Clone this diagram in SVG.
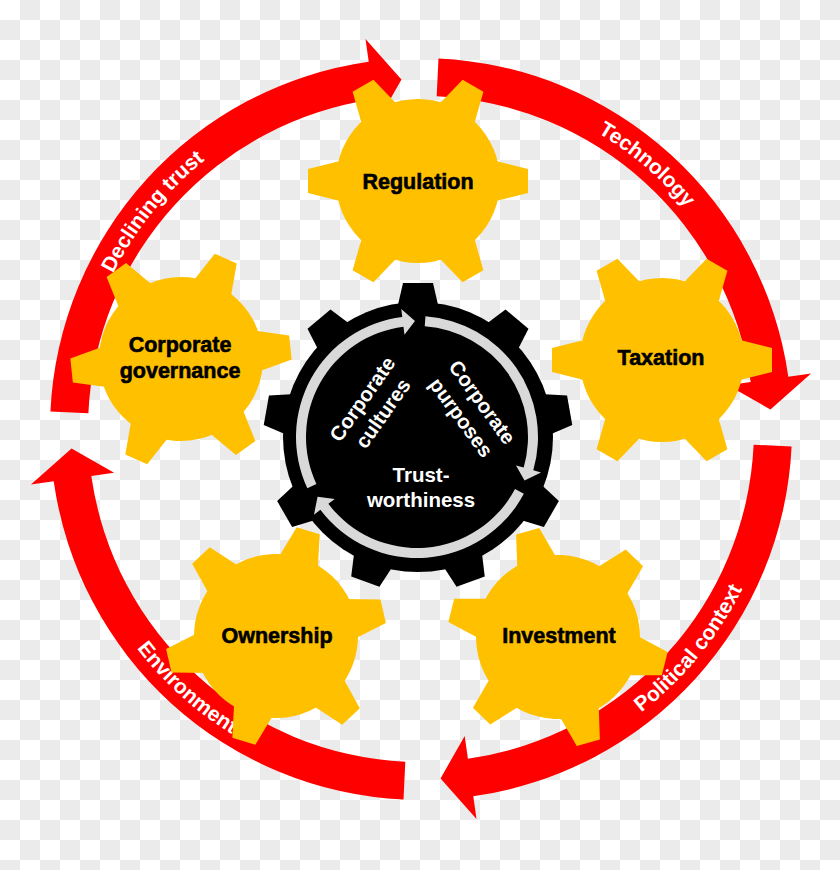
<svg xmlns="http://www.w3.org/2000/svg" width="840" height="870" viewBox="0 0 840 870">
<defs>
<style>
.lab{font-family:"Liberation Sans",Arial,sans-serif;font-weight:bold;font-size:21px;fill:#fff}
.nt{font-family:"Liberation Sans",Arial,sans-serif;font-weight:bold;font-size:21.5px;fill:#000;stroke:#000;stroke-width:0.6px;text-anchor:middle}
.ct{font-family:"Liberation Sans",Arial,sans-serif;font-weight:bold;font-size:20.5px;fill:#fff;text-anchor:middle}
.ring{fill:#d9d9d9}
.chk line{stroke:#ebebeb;stroke-width:20px;stroke-dasharray:20 20}
.chk .e{stroke-dashoffset:20px}
</style>
<path id="redArrow" fill="#ff0000" d="M50.41 411.52 A371 371 0 0 1 368.73 61.70 L365.49 38.93 L401.46 79.55 L377.32 122.09 L374.08 99.32 A333 333 0 0 0 88.37 413.31 Z"/>
<polygon id="yt" points="74,-21 110,-12 110,12 74,21"/>
<g id="yg" fill="#ffc000">
<circle r="82"/>
<use href="#yt"/>
<use href="#yt" transform="rotate(60)"/>
<use href="#yt" transform="rotate(120)"/>
<use href="#yt" transform="rotate(180)"/>
<use href="#yt" transform="rotate(240)"/>
<use href="#yt" transform="rotate(300)"/>
</g>
<polygon id="bt" points="128,-21 154,-15 154,15 128,21"/>
<path id="lp1" d="M76.05 435.02 A345 345 0 0 1 355.17 90.34"/>
<path id="lp2" d="M424.01 84.01 A345 345 0 0 1 761.27 372.06"/>
<path id="lp3" d="M487.65 781.76 A359 359 0 0 0 779.97 424.61"/>
<path id="lp4" d="M65.41 478.34 A359 359 0 0 0 407.85 787.76"/>
</defs>
<rect width="840" height="870" fill="#ffffff"/>
<g class="chk">
<line class="e" x1="0" y1="10" x2="840" y2="10"/>
<line x1="0" y1="30" x2="840" y2="30"/>
<line class="e" x1="0" y1="50" x2="840" y2="50"/>
<line x1="0" y1="70" x2="840" y2="70"/>
<line class="e" x1="0" y1="90" x2="840" y2="90"/>
<line x1="0" y1="110" x2="840" y2="110"/>
<line class="e" x1="0" y1="130" x2="840" y2="130"/>
<line x1="0" y1="150" x2="840" y2="150"/>
<line class="e" x1="0" y1="170" x2="840" y2="170"/>
<line x1="0" y1="190" x2="840" y2="190"/>
<line class="e" x1="0" y1="210" x2="840" y2="210"/>
<line x1="0" y1="230" x2="840" y2="230"/>
<line class="e" x1="0" y1="250" x2="840" y2="250"/>
<line x1="0" y1="270" x2="840" y2="270"/>
<line class="e" x1="0" y1="290" x2="840" y2="290"/>
<line x1="0" y1="310" x2="840" y2="310"/>
<line class="e" x1="0" y1="330" x2="840" y2="330"/>
<line x1="0" y1="350" x2="840" y2="350"/>
<line class="e" x1="0" y1="370" x2="840" y2="370"/>
<line x1="0" y1="390" x2="840" y2="390"/>
<line class="e" x1="0" y1="410" x2="840" y2="410"/>
<line x1="0" y1="430" x2="840" y2="430"/>
<line class="e" x1="0" y1="450" x2="840" y2="450"/>
<line x1="0" y1="470" x2="840" y2="470"/>
<line class="e" x1="0" y1="490" x2="840" y2="490"/>
<line x1="0" y1="510" x2="840" y2="510"/>
<line class="e" x1="0" y1="530" x2="840" y2="530"/>
<line x1="0" y1="550" x2="840" y2="550"/>
<line class="e" x1="0" y1="570" x2="840" y2="570"/>
<line x1="0" y1="590" x2="840" y2="590"/>
<line class="e" x1="0" y1="610" x2="840" y2="610"/>
<line x1="0" y1="630" x2="840" y2="630"/>
<line class="e" x1="0" y1="650" x2="840" y2="650"/>
<line x1="0" y1="670" x2="840" y2="670"/>
<line class="e" x1="0" y1="690" x2="840" y2="690"/>
<line x1="0" y1="710" x2="840" y2="710"/>
<line class="e" x1="0" y1="730" x2="840" y2="730"/>
<line x1="0" y1="750" x2="840" y2="750"/>
<line class="e" x1="0" y1="770" x2="840" y2="770"/>
<line x1="0" y1="790" x2="840" y2="790"/>
<line class="e" x1="0" y1="810" x2="840" y2="810"/>
<line x1="0" y1="830" x2="840" y2="830"/>
<line class="e" x1="0" y1="850" x2="840" y2="850"/>
<line x1="0" y1="870" x2="840" y2="870"/>
</g>
<g id="connectors">
<use href="#redArrow"/>
<use href="#redArrow" transform="rotate(90 421 429)"/>
<use href="#redArrow" transform="rotate(180 421 429)"/>
<use href="#redArrow" transform="rotate(270 421 429)"/>
<text class="lab"><textPath href="#lp1" startOffset="50%" text-anchor="middle">Declining trust</textPath></text>
<text class="lab"><textPath href="#lp2" startOffset="50%" text-anchor="middle">Technology</textPath></text>
<text class="lab"><textPath href="#lp3" startOffset="50%" text-anchor="middle">Political context</textPath></text>
<text class="lab"><textPath href="#lp4" startOffset="50%" text-anchor="middle">Environment</textPath></text>
</g>
<g id="regulation">
<use href="#yg" transform="translate(418,181)"/>
<text class="nt" x="418" y="189">Regulation</text>
</g>
<g id="taxation">
<use href="#yg" transform="translate(662,360)"/>
<text class="nt" x="661" y="365">Taxation</text>
</g>
<g id="corporate-governance">
<use href="#yg" transform="translate(181,359) rotate(-6)"/>
<text class="nt" x="180" y="352">Corporate</text>
<text class="nt" x="180" y="378">governance</text>
</g>
<g id="ownership">
<use href="#yg" transform="translate(276,636) rotate(-13)"/>
<text class="nt" x="277" y="643">Ownership</text>
</g>
<g id="investment">
<use href="#yg" transform="translate(558,637) rotate(14)"/>
<text class="nt" x="559" y="643">Investment</text>
</g>
<g id="trustworthiness">
<g transform="translate(418,437)" fill="#000">
<circle r="135"/>
<use href="#bt" transform="rotate(-90)"/>
<use href="#bt" transform="rotate(-50)"/>
<use href="#bt" transform="rotate(-10)"/>
<use href="#bt" transform="rotate(30)"/>
<use href="#bt" transform="rotate(70)"/>
<use href="#bt" transform="rotate(110)"/>
<use href="#bt" transform="rotate(150)"/>
<use href="#bt" transform="rotate(190)"/>
<use href="#bt" transform="rotate(230)"/>
</g>
<path class="ring" d="M307.34 488.14 A121 121 0 0 1 402.25 316.90 L401.28 308.96 L414.98 321.02 L404.45 334.77 L403.47 326.83 A111 111 0 0 0 316.40 483.91 Z"/>
<path class="ring" d="M425.44 316.30 A121 121 0 0 1 533.31 470.35 L541.00 472.56 L524.55 480.45 L516.01 465.39 L523.70 467.60 A111 111 0 0 0 424.74 326.27 Z"/>
<path class="ring" d="M523.84 493.81 A121 121 0 0 1 320.36 509.82 L313.98 514.63 L317.57 496.74 L334.74 498.99 L328.35 503.80 A111 111 0 0 0 515.01 489.11 Z"/>
<text class="ct" transform="translate(378,410) rotate(-55)"><tspan x="0" y="-12">Corporate</tspan><tspan x="0" y="13">cultures</tspan></text>
<text class="ct" transform="translate(466,414) rotate(54)"><tspan x="0" y="-13">Corporate</tspan><tspan x="0" y="13">purposes</tspan></text>
<text class="ct" x="421" y="482">Trust-</text>
<text class="ct" x="421" y="507">worthiness</text>
</g>
</svg>
